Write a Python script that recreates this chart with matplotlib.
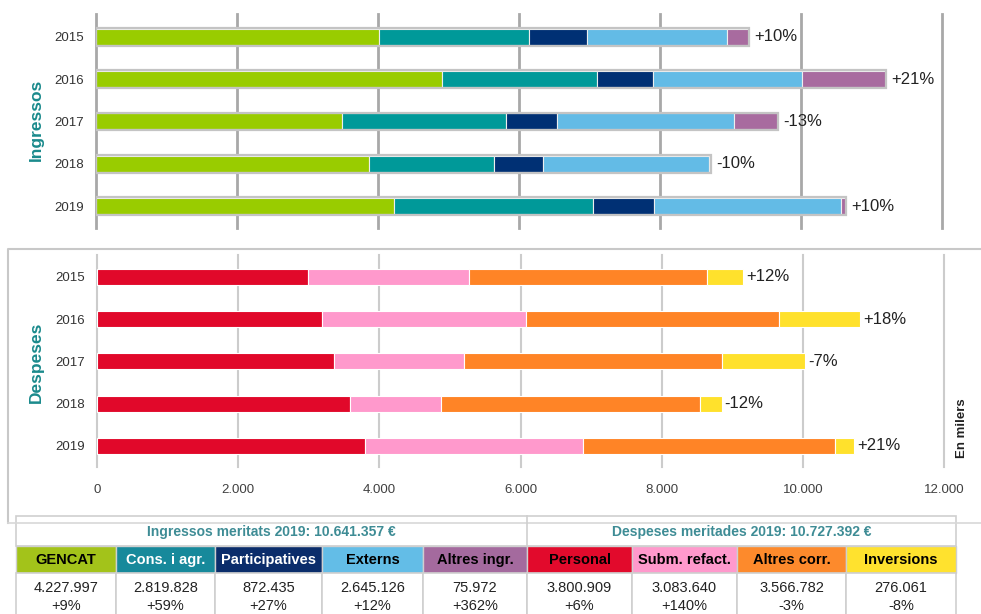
import numpy as np
import matplotlib.pyplot as plt
from matplotlib.patches import Rectangle

plt.rcParams['font.family'] = ['Liberation Sans', 'DejaVu Sans']

# Dades (en milers d'euros)
years = ['2015', '2016', '2017', '2018', '2019']

ingr_names = ['GENCAT', 'Cons. i agr.', 'Participatives', 'Externs', 'Altres ingr.']
gencat = [4014, 4908, 3489, 3879, 4228]
cons_agr = [2128, 2198, 2327, 1773, 2820]
participatives = [823, 795, 723, 687, 872]
externs = [1985, 2113, 2511, 2362, 2645]
altres_ingr = [312, 1192, 624, 16, 76]
ingr_var = ['+10%', '+21%', '-13%', '-10%', '+10%']

desp_names = ['Personal', 'Subm. refact.', 'Altres corr.', 'Inversions']
personal = [2990, 3190, 3360, 3586, 3801]
subm_refact = [2280, 2890, 1840, 1285, 3084]
altres_corr = [3375, 3585, 3660, 3677, 3567]
inversions = [510, 1150, 1175, 300, 276]
desp_var = ['+12%', '+18%', '-7%', '-12%', '+21%']

ingr_total_txt = 'Ingressos meritats 2019: 10.641.357 €'
desp_total_txt = 'Despeses meritades 2019: 10.727.392 €'
ingr_2019_txt = ['4.227.997', '2.819.828', '872.435', '2.645.126', '75.972']
ingr_2019_var = ['+9%', '+59%', '+27%', '+12%', '+362%']
desp_2019_txt = ['3.800.909', '3.083.640', '3.566.782', '276.061']
desp_2019_var = ['+6%', '+140%', '-3%', '-8%']

# Colors
ingr_colors = ['#99cc00', '#009999', '#003074', '#63bbe6', '#a86b9f']
desp_colors = ['#e1082a', '#ff99cc', '#ff8426', '#ffe12c']
ingr_head = ['#a3c31a', '#17899b', '#0b2d6b', '#63bde7', '#a46a9e']
desp_head = ['#e20a2c', '#ff99cc', '#fd8a2c', '#ffe22e']
head_txt = ['black', 'white', 'white', 'black', 'black', 'black', 'black', 'black', 'black']
teal = '#1a8a8c'

W, H = 981, 614
fig = plt.figure(figsize=(W / 100, H / 100), dpi=100)

# capa de fons en píxels per marcs i taula
bg = fig.add_axes([0, 0, 1, 1])
bg.set_xlim(0, W)
bg.set_ylim(H, 0)
bg.axis('off')


def ax_rect(x0, y0, x1, y1):
    return [x0 / W, 1 - y1 / H, (x1 - x0) / W, (y1 - y0) / H]


y = np.arange(len(years))
bar_h = 0.38

# --- Ingressos ---
ax1 = fig.add_axes(ax_rect(96, 14, 942, 228))
ax1.set_facecolor('none')
left = np.zeros(len(years))
for vals, col in zip([gencat, cons_agr, participatives, externs, altres_ingr], ingr_colors):
    ax1.barh(y, vals, left=left, height=bar_h, color=col, edgecolor='#eeeeee', linewidth=0.8, zorder=3)
    left += np.array(vals)
ax1.barh(y, left, height=bar_h + 0.04, fill=False, edgecolor='#c4c4c4', linewidth=1.6, zorder=4)
for yi, tot, lab in zip(y, left, ingr_var):
    ax1.annotate(lab, (tot, yi), xytext=(4, 0), textcoords='offset points',
                 va='center', ha='left', fontsize=12, color='#222222', zorder=5)
ax1.set_xlim(0, 12000)
ax1.set_ylim(4.52, -0.54)
ax1.set_xticks(np.arange(0, 12001, 2000))
ax1.grid(axis='x', color='#a8a8a8', linewidth=2, zorder=0)
ax1.set_yticks(y)
ax1.set_yticklabels(years, fontsize=9.5, color='#333333')
ax1.tick_params(length=0, pad=9, labelbottom=False)
for s in ax1.spines.values():
    s.set_visible(False)
for gl in ax1.get_xgridlines():
    gl.set_clip_on(False)

# --- Despeses ---
ax2 = fig.add_axes(ax_rect(97, 255, 944, 467))
ax2.set_facecolor('none')
left2 = np.zeros(len(years))
for vals, col in zip([personal, subm_refact, altres_corr, inversions], desp_colors):
    ax2.barh(y, vals, left=left2, height=bar_h, color=col, edgecolor='white', linewidth=0.8, zorder=3)
    left2 += np.array(vals)
for yi, tot, lab in zip(y, left2, desp_var):
    ax2.annotate(lab, (tot, yi), xytext=(2, 0), textcoords='offset points',
                 va='center', ha='left', fontsize=12, color='#222222', zorder=5)
ax2.set_xlim(0, 12000)
ax2.set_ylim(4.5, -0.52)
ax2.set_xticks(np.arange(0, 12001, 2000))
ax2.set_xticklabels(['0', '2.000', '4.000', '6.000', '8.000', '10.000', '12.000'])
ax2.grid(axis='x', color='#cccccc', linewidth=1.5, zorder=0)
ax2.set_yticks(y)
ax2.set_yticklabels(years, fontsize=9.5, color='#333333')
ax2.tick_params(axis='y', length=0, pad=9)
ax2.tick_params(axis='x', length=0, pad=12, labelsize=9.5, labelcolor='#404040')
for s in ax2.spines.values():
    s.set_visible(False)
for gl in ax2.get_xgridlines():
    gl.set_clip_on(False)

fig.text(36 / W, 1 - 120 / H, 'Ingressos', rotation=90, ha='center', va='center',
         fontsize=12.5, fontweight='bold', color=teal)
fig.text(36 / W, 1 - 362 / H, 'Despeses', rotation=90, ha='center', va='center',
         fontsize=12.5, fontweight='bold', color=teal)
fig.text(962 / W, 1 - 428 / H, 'En milers', rotation=90, ha='center', va='center',
         fontsize=9.5, fontweight='bold', color='#222222')

# marc del panell de despeses
bg.plot([8, 8, 985], [523, 249, 249], color='#c8c8c8', linewidth=1.5)
bg.plot([8, 985], [523, 523], color='#d8d8d8', linewidth=1.2)

# --- Taula ---
cols = [16, 116, 215, 322, 423, 527, 632, 737, 846, 956]
line_c = '#cfcfcf'
bg.add_patch(Rectangle((16, 516), 940, 30, facecolor='white', edgecolor=line_c, linewidth=1.2))
bg.plot([527, 527], [516, 546], color=line_c, linewidth=1.2)
bg.text((16 + 527) / 2, 532, ingr_total_txt, ha='center', va='center',
        fontsize=10, fontweight='bold', color='#3e8c95')
bg.text((527 + 956) / 2, 532, desp_total_txt, ha='center', va='center',
        fontsize=10, fontweight='bold', color='#3e8c95')

names = ingr_names + desp_names
heads = ingr_head + desp_head
vals_txt = ingr_2019_txt + desp_2019_txt
vars_txt = ingr_2019_var + desp_2019_var
for i in range(len(names)):
    x0, x1 = cols[i], cols[i + 1]
    xc = (x0 + x1) / 2
    bg.add_patch(Rectangle((x0, 546), x1 - x0, 27, facecolor=heads[i], edgecolor=line_c, linewidth=1))
    bg.add_patch(Rectangle((x0, 573), x1 - x0, 50, facecolor='white', edgecolor=line_c, linewidth=1.2))
    bg.text(xc, 560, names[i], ha='center', va='center', fontsize=10.5,
            fontweight='bold', color=head_txt[i])
    bg.text(xc, 588, vals_txt[i], ha='center', va='center', fontsize=10.5, color='#222222')
    bg.text(xc, 606, vars_txt[i], ha='center', va='center', fontsize=10.5, color='#222222')

fig.savefig('out.png', dpi=100)
